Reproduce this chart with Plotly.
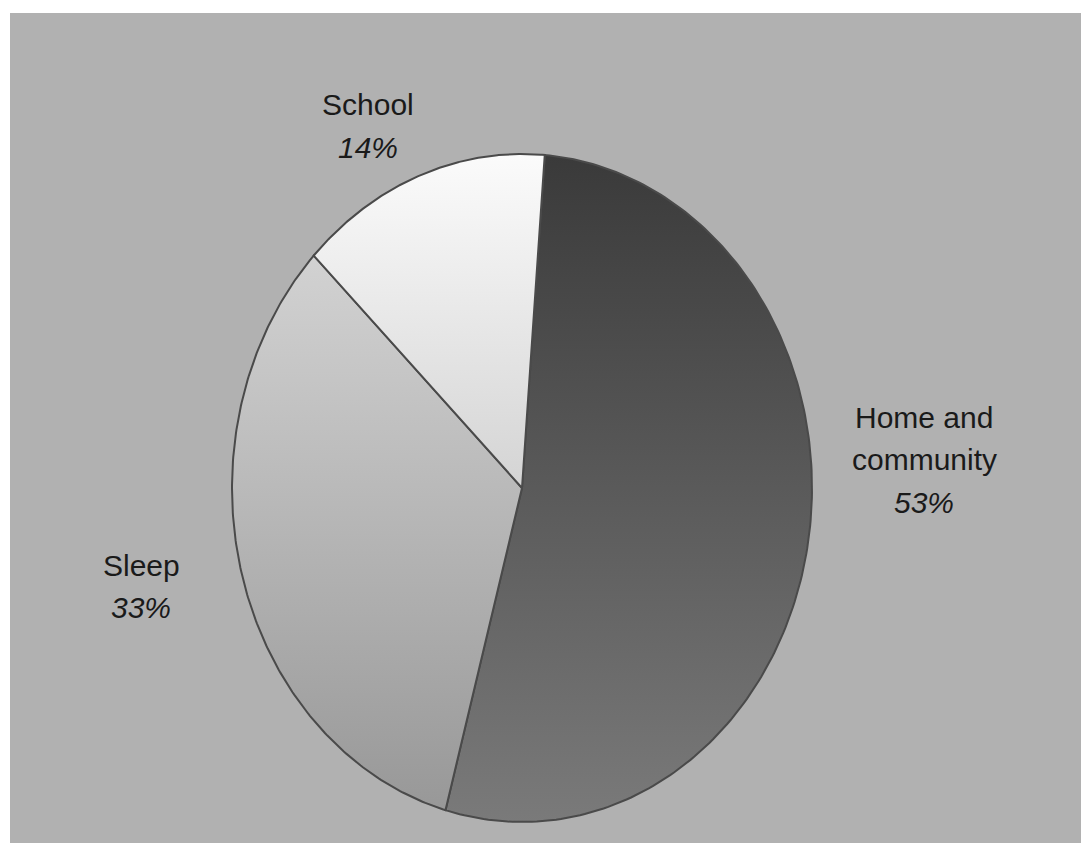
import numpy as np
import plotly.graph_objects as go

# ---- data ----
labels = ["Home and community", "Sleep", "School"]
label_lines = [["Home and", "community"], ["Sleep"], ["School"]]
values = [53, 33, 14]
pct_text = [f"{v}%" for v in values]

# ---- layout / style ----
W, H = 1081, 843
cx, cy = 522, 488          # ellipse centre (pixels)
rx, ry = 290, 334          # ellipse radii (pixels)
start_deg = 4.5            # clockwise from 12 o'clock
# colorscale position 0 = bottom of the shape, 1 = top
grads = [
    [[0, "#7a7a7a"], [1, "#3a3a3a"]],
    [[0, "#989898"], [1, "#d2d2d2"]],
    [[0, "#d4d4d4"], [1, "#fbfbfb"]],
]
label_x = [924, 141, 368]
label_baselines = [[428, 470, 513], [575, 617], [115, 158]]
FS = 30

fig = go.Figure()
total = sum(values)
a = np.deg2rad(start_deg)
for i, v in enumerate(values):
    span = 2 * np.pi * v / total
    t = np.linspace(a, a + span, 200)
    xs = np.concatenate([[cx], cx + rx * np.sin(t), [cx]])
    ys = np.concatenate([[cy], cy - ry * np.cos(t), [cy]])
    fig.add_trace(go.Scatter(
        x=xs, y=ys, mode="lines", fill="toself",
        fillgradient=dict(type="vertical", colorscale=grads[i]),
        line=dict(color="#4a4a4a", width=2),
        name=labels[i], hoverinfo="name", showlegend=False,
    ))
    a += span

annotations = []
for i in range(len(values)):
    lines = label_lines[i] + [pct_text[i]]
    for j, txt in enumerate(lines):
        is_pct = j == len(lines) - 1
        annotations.append(dict(
            x=label_x[i], y=label_baselines[i][j] - 10,
            xref="x", yref="y", showarrow=False,
            text=f"<i>{txt}</i>" if is_pct else txt,
            font=dict(family="Liberation Sans, Arial, sans-serif", size=FS, color="#1a1a1a"),
            xanchor="center", yanchor="middle",
        ))

fig.update_layout(
    width=W, height=H,
    margin=dict(l=0, r=0, t=0, b=0),
    paper_bgcolor="white",
    plot_bgcolor="#b1b1b1",
    xaxis=dict(range=[10, W], domain=[10 / W, 1], visible=False, fixedrange=True),
    yaxis=dict(range=[H, 13], domain=[0, 1 - 13 / H], visible=False, fixedrange=True),
    annotations=annotations,
)

fig.write_html("out.html")
